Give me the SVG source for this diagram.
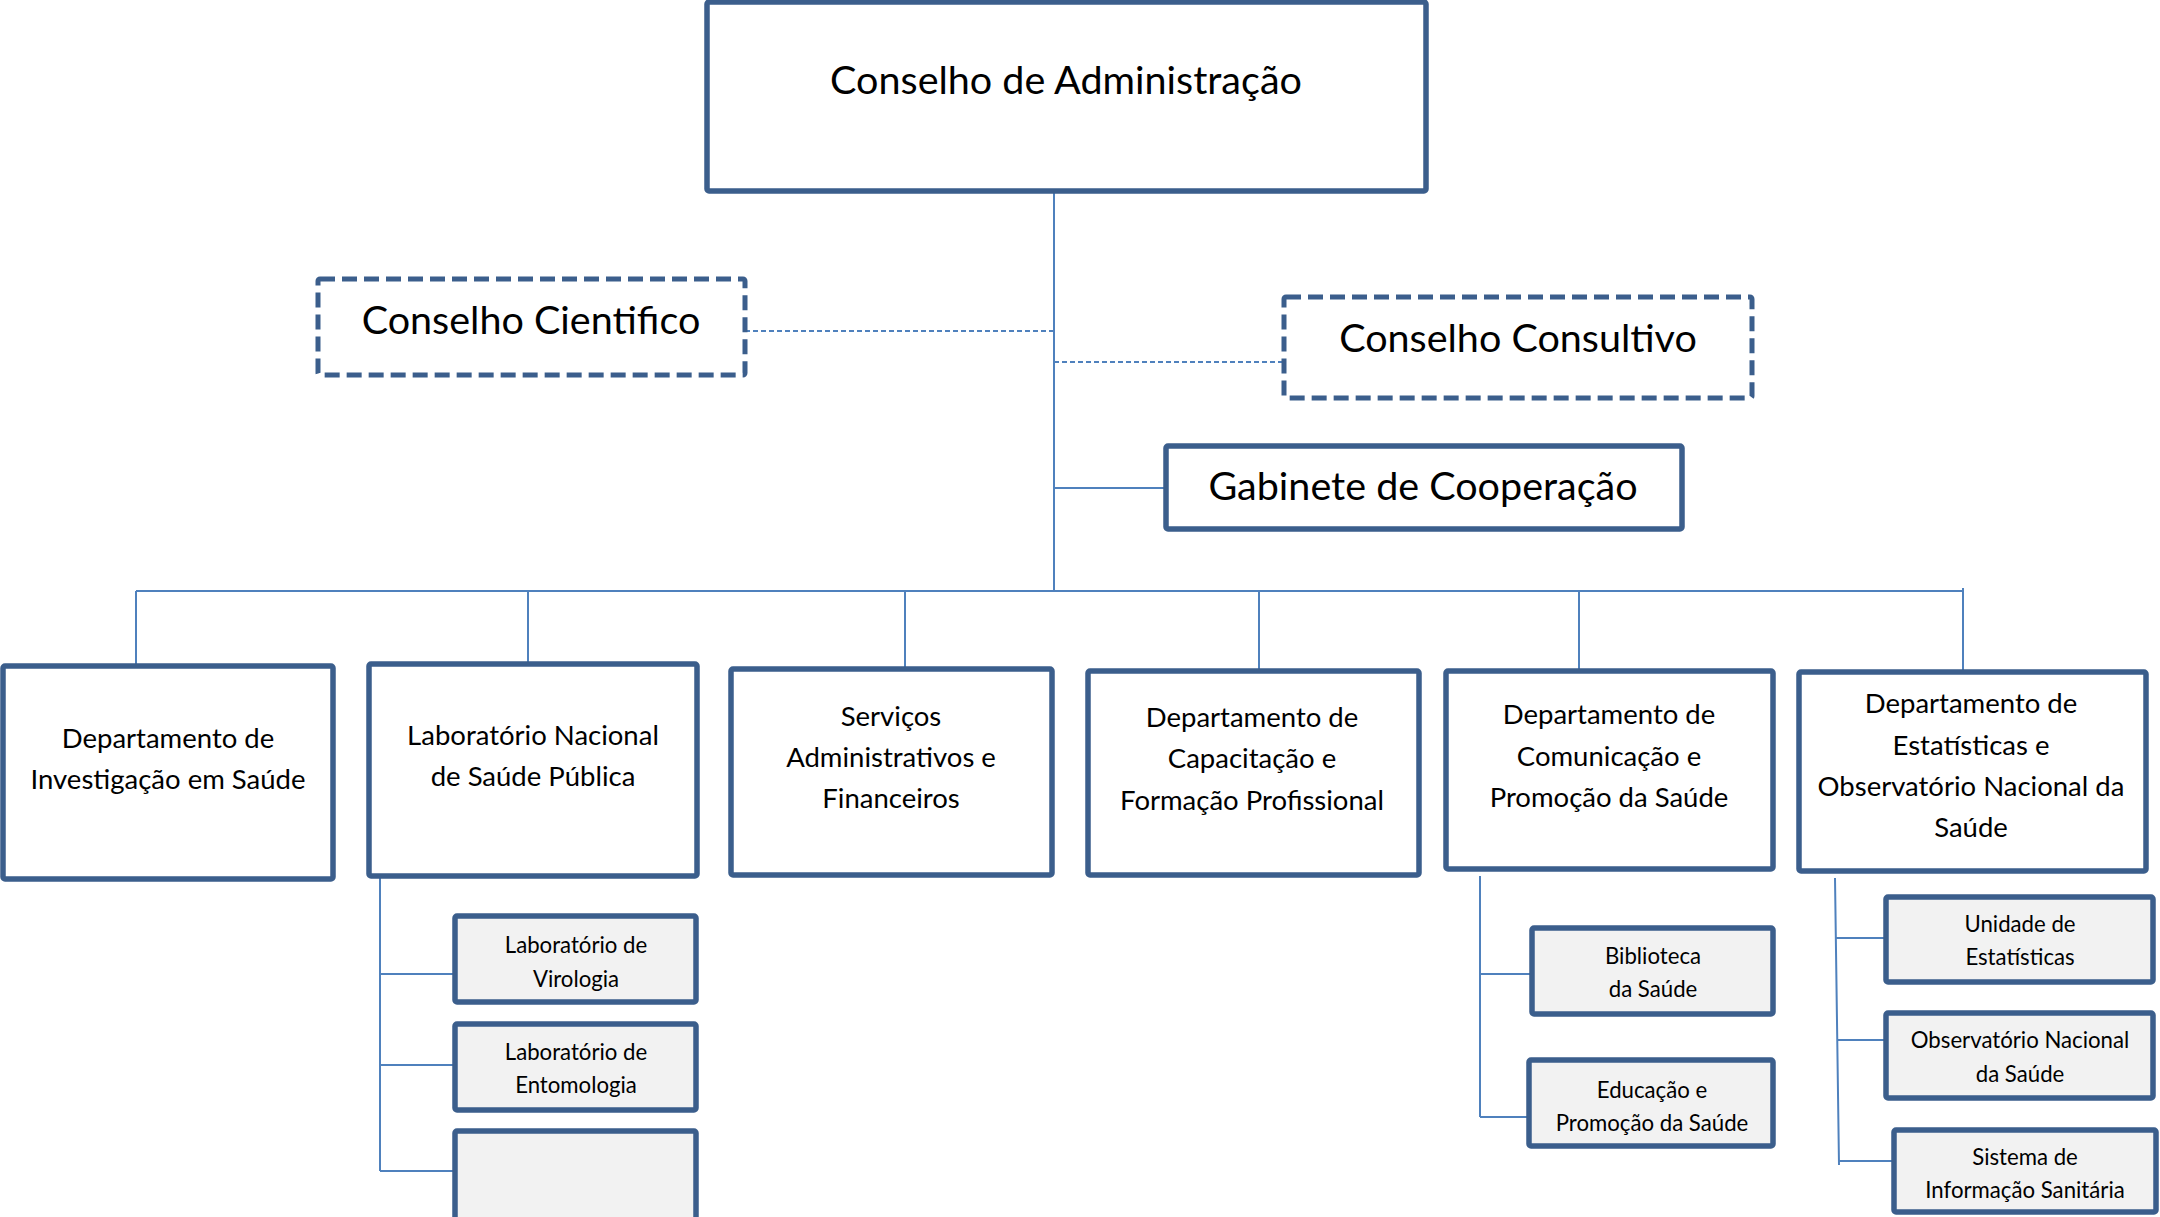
<svg xmlns="http://www.w3.org/2000/svg" width="2160" height="1217" viewBox="0 0 2160 1217">
<style>
.box{fill:#fff;stroke:#3b5e8c;stroke-width:5.5}
.sub{fill:#f2f2f2;stroke:#3b5e8c;stroke-width:5.5}
.dbox{fill:#fff;stroke:#3b5e8c;stroke-width:5;stroke-dasharray:15 7}
.ln{stroke:#4f81bd;stroke-width:2;fill:none}
.dl{stroke:#4f81bd;stroke-width:2;stroke-dasharray:5 3;fill:none}
text{font-family:Lato,"Open Sans","Liberation Sans",sans-serif;fill:#000;text-anchor:middle}
.t1{font-size:39.5px}
.t2{font-size:27.5px}
.t3{font-size:22.2px}
</style>
<defs>
<clipPath id="clipViro"><rect x="455" y="916" width="241" height="75"/></clipPath>
</defs>
<g id="connectors">
<path class="ln" d="M1054 191 V592"/>
<path class="dl" d="M745 331 H1054"/>
<path class="dl" d="M1054 362 H1283"/>
<path class="ln" d="M1054 488 H1165"/>
<path class="ln" d="M136 591 H1963"/>
<path class="ln" d="M136 591 V665 M528 591 V663 M905 591 V668 M1259 591 V670 M1579 591 V670 M1963 588 V671"/>
<path class="ln" d="M380 878 V1171 M380 974 H455 M380 1065 H455 M380 1171 H455"/>
<path class="ln" d="M1480 876 V1117 M1480 974 H1532 M1480 1117 H1529"/>
<path class="ln" d="M1835 878 L1839 1165 M1836 938 H1886 M1837 1040 H1886 M1839 1161 H1894"/>
</g>
<g id="conselho-administracao">
<rect class="box" x="707" y="2" width="719" height="189" rx="2"/>
<text class="t1" x="1066" y="94">Conselho de Administração</text>
</g>
<g id="conselho-cientifico">
<rect class="dbox" x="318" y="279" width="427" height="96" rx="2"/>
<text class="t1" x="531" y="334">Conselho Cientifico</text>
</g>
<g id="conselho-consultivo">
<rect class="dbox" x="1284" y="297" width="468" height="101" rx="2"/>
<text class="t1" x="1518" y="352">Conselho Consultivo</text>
</g>
<g id="gabinete-cooperacao">
<rect class="box" x="1166" y="446" width="516" height="83" rx="2"/>
<text class="t1" x="1423" y="500">Gabinete de Cooperação</text>
</g>
<g id="dep-investigacao">
<rect class="box" x="3" y="666" width="330" height="213" rx="2"/>
<text class="t2" x="168" y="748">Departamento de</text>
<text class="t2" x="168" y="789">Investigação em Saúde</text>
</g>
<g id="lab-nacional">
<rect class="box" x="369" y="664" width="328" height="212" rx="2"/>
<text class="t2" x="533" y="745">Laboratório Nacional</text>
<text class="t2" x="533" y="786">de Saúde Pública</text>
</g>
<g id="servicos-administrativos">
<rect class="box" x="731" y="669" width="321" height="206" rx="2"/>
<text class="t2" x="891" y="726">Serviços</text>
<text class="t2" x="891" y="767">Administrativos e</text>
<text class="t2" x="891" y="808">Financeiros</text>
</g>
<g id="dep-capacitacao">
<rect class="box" x="1088" y="671" width="331" height="204" rx="2"/>
<text class="t2" x="1252" y="727">Departamento de</text>
<text class="t2" x="1252" y="768">Capacitação e</text>
<text class="t2" x="1252" y="810">Formação Profissional</text>
</g>
<g id="dep-comunicacao">
<rect class="box" x="1446" y="671" width="327" height="198" rx="2"/>
<text class="t2" x="1609" y="724">Departamento de</text>
<text class="t2" x="1609" y="766">Comunicação e</text>
<text class="t2" x="1609" y="807">Promoção da Saúde</text>
</g>
<g id="dep-estatisticas">
<rect class="box" x="1799" y="672" width="347" height="199" rx="2"/>
<text class="t2" x="1971" y="713">Departamento de</text>
<text class="t2" x="1971" y="755">Estatísticas e</text>
<text class="t2" x="1971" y="796">Observatório Nacional da</text>
<text class="t2" x="1971" y="837">Saúde</text>
</g>
<g id="lab-virologia">
<rect class="sub" x="455" y="916" width="241" height="86" rx="2"/>
<g clip-path="url(#clipViro)">
<text class="t3" x="576" y="953">Laboratório de</text>
<text class="t3" x="576" y="987">Virologia</text>
</g>
</g>
<g id="lab-entomologia">
<rect class="sub" x="455" y="1024" width="241" height="86" rx="2"/>
<text class="t3" x="576" y="1060">Laboratório de</text>
<text class="t3" x="576" y="1093">Entomologia</text>
</g>
<g id="lab-vazio">
<rect class="sub" x="455" y="1131" width="241" height="120" rx="2"/>
</g>
<g id="biblioteca-saude">
<rect class="sub" x="1532" y="928" width="241" height="86" rx="2"/>
<text class="t3" x="1653" y="964">Biblioteca</text>
<text class="t3" x="1653" y="997">da Saúde</text>
</g>
<g id="educacao-promocao">
<rect class="sub" x="1529" y="1060" width="244" height="86" rx="2"/>
<text class="t3" x="1652" y="1098">Educação e</text>
<text class="t3" x="1652" y="1131">Promoção da Saúde</text>
</g>
<g id="unidade-estatisticas">
<rect class="sub" x="1886" y="897" width="267" height="85" rx="2"/>
<text class="t3" x="2020" y="932">Unidade de</text>
<text class="t3" x="2020" y="965">Estatísticas</text>
</g>
<g id="observatorio-nacional">
<rect class="sub" x="1886" y="1013" width="267" height="85" rx="2"/>
<text class="t3" x="2020" y="1048">Observatório Nacional</text>
<text class="t3" x="2020" y="1082">da Saúde</text>
</g>
<g id="sistema-informacao">
<rect class="sub" x="1894" y="1130" width="262" height="82" rx="2"/>
<text class="t3" x="2025" y="1165">Sistema de</text>
<text class="t3" x="2025" y="1198">Informação Sanitária</text>
</g>
</svg>
